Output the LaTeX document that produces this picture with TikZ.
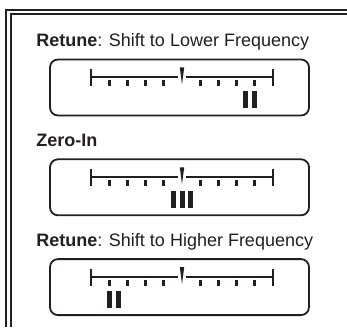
\documentclass[tikz,border=0pt]{standalone}
\usepackage{fontspec}
\setmainfont{Liberation Sans}
\usepackage{xcolor}
\usepackage{tikz}
\usetikzlibrary{positioning}
\definecolor{ink}{RGB}{35,31,32}

\begin{document}
\begin{tikzpicture}[
    x=1pt, y=1pt,
    dialbox/.style={
        rectangle,
        draw=ink,
        line width=1.8pt,
        rounded corners=8pt,
        minimum width=259pt,
        minimum height=56pt
    },
    caption/.style={
        anchor=base west,
        text=ink,
        inner sep=0pt,
        font=\fontsize{18}{20}\selectfont
    },
    scaleline/.style={
        draw=ink,
        line width=1.8pt
    },
    tickmark/.style={
        draw=ink,
        line width=3pt
    },
    bar/.style={
        fill=ink
    }
]
\useasboundingbox (0,0) rectangle (347,327);

% Rahmen
\draw[ink, line width=1.8pt] (6,0) -- (6,317) -- (347,317);
\draw[ink, line width=1.2pt] (11,0) -- (11,313) -- (347,313);

% Anzeigen
\node[dialbox] (lowbox) at (179.5,239.5) {};
\node[dialbox, below=42pt of lowbox] (zerobox) {};
\node[dialbox, below=42pt of zerobox] (highbox) {};

% Beschriftungen
\node[caption] (lowlabel) at ([shift={(-13pt,12pt)}]lowbox.north west)
    {\textbf{Retune}: Shift to Lower Frequency};
\node[caption] (zerolabel) at ([shift={(-13pt,12pt)}]zerobox.north west)
    {\textbf{Zero-In}};
\node[caption] (highlabel) at ([shift={(-13pt,12pt)}]highbox.north west)
    {\textbf{Retune}: Shift to Higher Frequency};

% Skalen
\foreach \dial/\nbars/\pos in {lowbox/2/68, zerobox/3/0, highbox/2/-68}{
  \begin{scope}[shift={(\dial.center)}, xshift=2.5pt]
    \draw[scaleline] (-91,10.5) -- (-4,10.5);
    \draw[scaleline] (4,10.5) -- (91,10.5);
    \draw[scaleline, line width=2.6pt] (-91,1.5) -- (-91,18.5);
    \draw[scaleline, line width=2.6pt] (91,1.5) -- (91,18.5);
    \foreach \k in {1,...,4}{
      \draw[tickmark] (-18.2*\k,7.5) -- (-18.2*\k,1.5);
      \draw[tickmark] (18.2*\k,7.5) -- (18.2*\k,1.5);
    }
    \fill[ink] (-2.2,20) -- (2.2,20) -- (0,3) -- cycle;
    \foreach \i in {1,...,\nbars}
      \fill[bar] ({\pos+(\i-(\nbars+1)/2)*8.5-2.5},-3.5) rectangle +(5,-17);
  \end{scope}
}

\end{tikzpicture}
\end{document}
